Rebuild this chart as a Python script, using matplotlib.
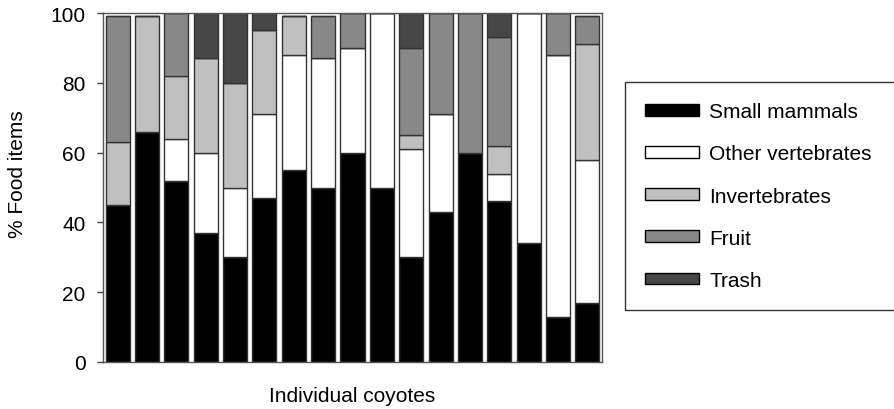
import numpy as np
import matplotlib
matplotlib.use('Agg')
import matplotlib.pyplot as plt

plt.rcParams['font.family'] = ['Liberation Sans', 'DejaVu Sans']

# % food items per individual coyote
coyotes = np.arange(17)
small_mammals = [45, 66, 52, 37, 30, 47, 55, 50, 60, 50, 30, 43, 60, 46, 34, 13, 17]
other_vert = [0, 0, 12, 23, 20, 24, 33, 37, 30, 50, 31, 28, 0, 8, 66, 75, 41]
invertebrates = [18, 33, 18, 27, 30, 24, 11, 0, 0, 0, 4, 0, 0, 8, 0, 0, 33]
fruit = [36, 0, 18, 0, 0, 0, 0, 12, 10, 0, 25, 29, 40, 31, 0, 12, 8]
trash = [0, 0, 0, 13, 20, 5, 0, 0, 0, 0, 10, 0, 0, 7, 0, 0, 0]

series = [small_mammals, other_vert, invertebrates, fruit, trash]
labels = ['Small mammals', 'Other vertebrates', 'Invertebrates', 'Fruit', 'Trash']
colors = ['#000000', '#ffffff', '#c0c0c0', '#888888', '#474747']

fig = plt.figure(figsize=(8.94, 4.10), dpi=100)
ax = fig.add_axes([102.7 / 894, 47 / 410, 499.3 / 894, 349 / 410])

bottom = np.zeros(len(coyotes))
for vals, lab, col in zip(series, labels, colors):
    vals = np.array(vals, dtype=float)
    ax.bar(coyotes, vals, width=0.82, bottom=bottom, color=col,
           edgecolor='#333333', linewidth=1.0, label=lab)
    bottom += vals

ax.set_xlim(-0.51, 16.5)
ax.set_ylim(0, 100)
ax.set_yticks(np.arange(0, 101, 20))
ax.set_xticks([])
ax.tick_params(axis='y', labelsize=15, length=4.3, width=1, pad=8,
               color='#444444')
for sp in ax.spines.values():
    sp.set_color('#555555')
    sp.set_linewidth(1.0)

ax.set_xlabel('Individual coyotes', fontsize=15, labelpad=17)
fig.text(17.5 / 894, 1 - 174 / 410, '% Food items', rotation=90,
         ha='center', va='center', fontsize=15)

# legend box: left edge 625px, top 83.5px, runs off the right of the figure
leg = ax.legend(loc='upper left', mode='expand',
                bbox_to_anchor=(625 / 894, 1 - 83.5 / 410, 300 / 894, 0),
                bbox_transform=fig.transFigure, borderaxespad=0,
                fontsize=15, frameon=True, fancybox=False, borderpad=0.95,
                labelspacing=1.11, handlelength=2.6, handleheight=0.48,
                handletextpad=0.5)
leg.get_frame().set_edgecolor('black')
leg.get_frame().set_linewidth(1.0)
for h in leg.legend_handles:
    h.set_edgecolor('black')

fig.savefig('out.png', dpi=100)
